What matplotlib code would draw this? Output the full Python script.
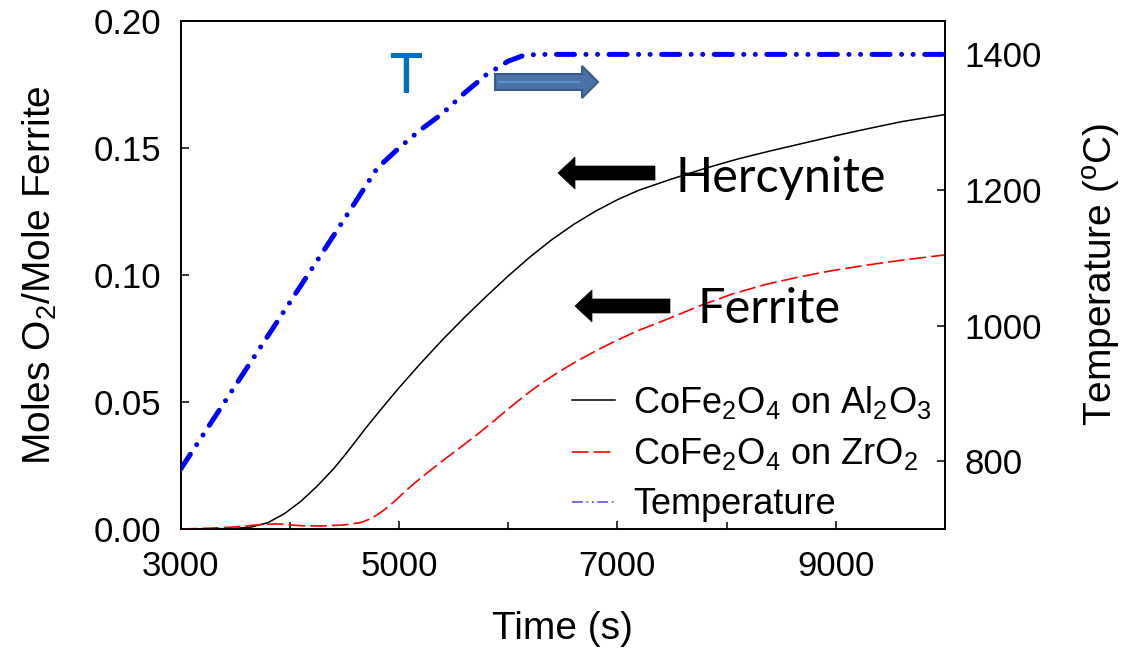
import matplotlib
matplotlib.use("Agg")
import matplotlib.pyplot as plt
from matplotlib.lines import Line2D
from matplotlib.patches import FancyArrow
from matplotlib.ticker import MultipleLocator, FixedLocator

plt.rcParams['font.family'] = ['Liberation Sans', 'DejaVu Sans']
plt.rcParams['mathtext.default'] = 'regular'

# ---- data ----
time_al = [3000, 3300, 3500, 3650, 3800, 3950, 4100, 4250, 4400, 4500, 4600, 4700, 4850,
           5000, 5200, 5400, 5600, 5800, 6000, 6200, 6400, 6600, 6800, 7000, 7200, 7500,
           7800, 8100, 8400, 8700, 9000, 9300, 9600, 10000]
o2_al = [0.0, 0.0, 0.0002, 0.0008, 0.0025, 0.0060, 0.0108, 0.0168, 0.0236, 0.0288, 0.0343, 0.0399, 0.0478,
         0.0555, 0.0652, 0.0745, 0.0832, 0.0915, 0.0995, 0.1070, 0.1138, 0.1198, 0.1250, 0.1295, 0.1333, 0.1377,
         0.1418, 0.1455, 0.1487, 0.1517, 0.1547, 0.1575, 0.1602, 0.1630]

time_zr = [3000, 3250, 3500, 3750, 3900, 4100, 4300, 4500, 4650, 4750, 4850, 4950, 5050, 5150,
           5250, 5400, 5550, 5700, 5850, 6000, 6150, 6300, 6450, 6600, 6800, 7000, 7200, 7450,
           7750, 8050, 8350, 8650, 8950, 9300, 9650, 10000]
o2_zr = [0.0, 0.0003, 0.0008, 0.0018, 0.002, 0.0013, 0.0012, 0.0016, 0.0025, 0.0042, 0.007, 0.0105, 0.0145, 0.0183,
         0.0218, 0.0268, 0.0317, 0.0366, 0.0418, 0.0472, 0.0524, 0.0572, 0.0614, 0.0653, 0.0700, 0.0743, 0.0782, 0.0824,
         0.0877, 0.0924, 0.0961, 0.0990, 0.1015, 0.1039, 0.1060, 0.1078]

time_t = [3000, 3500, 4000, 4500, 4800, 5000, 5200, 5400, 5600, 5800, 6000, 6150, 6300, 10000]
temp_c = [788, 911, 1034, 1157, 1232, 1262, 1289, 1313, 1343, 1370, 1390, 1399, 1400, 1400]

legend_labels = [r'CoFe$_2$O$_4$ on Al$_2$O$_3$', r'CoFe$_2$O$_4$ on ZrO$_2$', 'Temperature']
x_ticks = [3000, 5000, 7000, 9000]
y_ticks = [0.00, 0.05, 0.10, 0.15, 0.20]
t_ticks = [800, 1000, 1200, 1400]

W, H = 1132, 648
fig = plt.figure(figsize=(W / 100, H / 100), dpi=100)
L, R, T, B = 180.5, 945, 20.5, 529
ax = fig.add_axes([L / W, (H - B) / H, (R - L) / W, (B - T) / H])
ax2 = ax.twinx()

ax.plot(time_al, o2_al, color='black', lw=1.1, zorder=3)
ax.plot(time_zr, o2_zr, color='red', lw=1.2, dashes=(10, 3), zorder=3)
ax2.plot(time_t, temp_c, color='#0000FF', lw=3.6,
         dashes=(3.6, 2.3, 0.01, 2.3, 0.01, 2.3), dash_capstyle='round', zorder=3)

ax.set_xlim(3000, 10000)
ax.set_ylim(0, 0.20)
ax2.set_ylim(700, 1450)

ax.xaxis.set_major_locator(FixedLocator(x_ticks))
ax.xaxis.set_minor_locator(MultipleLocator(1000))
ax.set_yticks(y_ticks)
ax.set_yticklabels([f'{v:.2f}' for v in y_ticks])
ax2.set_yticks(t_ticks)

for a in (ax, ax2):
    for s in a.spines.values():
        s.set_linewidth(1.2)
ax.tick_params(axis='x', which='major', direction='in', length=6, width=1.1, labelsize=25, pad=15)
ax.tick_params(axis='x', which='minor', direction='in', length=5, width=1.1)
ax.tick_params(axis='y', direction='in', length=6, width=1.1, labelsize=25, pad=14)
ax2.tick_params(axis='y', direction='in', length=6, width=1.1, labelsize=25, pad=14)

ax.set_xlabel('Time (s)', fontsize=28, labelpad=20)
ax.set_ylabel(r'Moles O$_2$/Mole Ferrite', fontsize=28, labelpad=25)
ax2.set_ylabel(r'Temperature ($^{o}$C)', fontsize=28, labelpad=28)

handles = [Line2D([], [], color='black', lw=1.1),
           Line2D([], [], color='red', lw=1.2, dashes=(10, 3)),
           Line2D([], [], color='#6060FF', lw=1.3, dashes=(6, 2, 1, 2, 1, 2))]
ax.legend(handles, legend_labels, loc='upper left', bbox_to_anchor=(0.512, 0.285),
          frameon=False, fontsize=26, handlelength=1.2, handletextpad=0.5,
          labelspacing=0.42, borderpad=0, borderaxespad=0)

# ---- annotations (pixel positions converted to axes fraction) ----
def fx(px):
    return (px - L) / (R - L)

def fy(py):
    return (B - py) / (B - T)

def arrow(x_tail, x_tip, y, body, head, hlen, fc, ec, lw=0.5):
    a = FancyArrow(fx(x_tail), fy(y), fx(x_tip) - fx(x_tail), 0,
                   width=body / (B - T), head_width=head / (B - T),
                   head_length=hlen / (R - L), length_includes_head=True,
                   transform=ax.transAxes, facecolor=fc, edgecolor=ec, lw=lw,
                   zorder=5, clip_on=False)
    ax.add_patch(a)

arrow(655, 558, 173, 14, 32, 17, 'black', 'black')
arrow(670, 575, 306, 14, 32, 17, 'black', 'black')
arrow(495, 598, 82, 16, 32, 16, '#4A72A6', '#385A86', lw=1.5)
ax.plot([fx(498), fx(580)], [fy(82), fy(82)], color='#5E8FCC', lw=1.6,
        transform=ax.transAxes, zorder=6, solid_capstyle='butt')

ax.text(fx(675), fy(192), 'Hercynite', transform=ax.transAxes, fontsize=35,
        family=['Lato', 'DejaVu Sans'], va='baseline', ha='left', zorder=6)
ax.text(fx(697), fy(323), 'Ferrite', transform=ax.transAxes, fontsize=35,
        family=['Lato', 'DejaVu Sans'], va='baseline', ha='left', zorder=6)
ax.text(fx(389), fy(93), 'T', transform=ax.transAxes, fontsize=40, color='#0070C0',
        family=['Lato', 'DejaVu Sans'], va='baseline', ha='left', zorder=6)

fig.savefig('out.png', dpi=100)
